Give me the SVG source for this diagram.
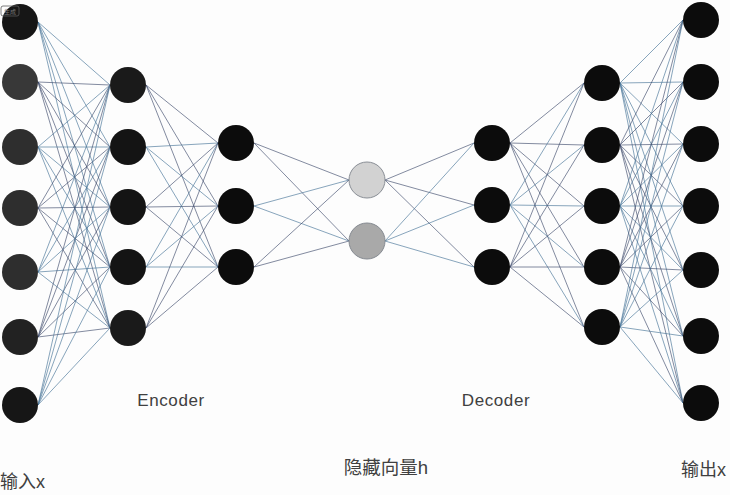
<svg xmlns="http://www.w3.org/2000/svg" width="730" height="495" viewBox="0 0 730 495">
<style>
.a{fill:none;stroke:#4f7a9c;stroke-width:0.85;stroke-opacity:0.8}
.b{fill:none;stroke:#3a4868;stroke-width:0.85;stroke-opacity:0.75}
.n{fill:#0c0c0c}
.g{fill:#2e2e2e}
.h1{fill:#d2d2d2;stroke:#8a8f96;stroke-width:1}
.h2{fill:#a9a9a9;stroke:#868b92;stroke-width:1}
.t{font-family:"Liberation Sans","Noto Sans CJK SC",sans-serif;fill:#404040}
</style>
<rect width="730" height="495" fill="#fdfdfd"/>
<g id="connectors">
<path class="a" d="M38 22L110 85M38 22L110 147M38 22L110 207M38 22L110 267M38 22L110 328"/>
<path class="b" d="M38 82L110 85M38 82L110 147M38 82L110 207M38 82L110 267M38 82L110 328"/>
<path class="a" d="M38 147L110 85M38 147L110 147M38 147L110 207M38 147L110 267M38 147L110 328"/>
<path class="b" d="M38 208L110 85M38 208L110 147M38 208L110 207M38 208L110 267M38 208L110 328"/>
<path class="a" d="M38 272L110 85M38 272L110 147M38 272L110 207M38 272L110 267M38 272L110 328"/>
<path class="b" d="M38 337L110 85M38 337L110 147M38 337L110 207M38 337L110 267M38 337L110 328"/>
<path class="a" d="M38 405L110 85M38 405L110 147M38 405L110 207M38 405L110 267M38 405L110 328"/>
<path class="b" d="M146 85L218 143M146 85L218 206M146 85L218 267"/>
<path class="a" d="M146 147L218 143M146 147L218 206M146 147L218 267"/>
<path class="b" d="M146 207L218 143M146 207L218 206M146 207L218 267"/>
<path class="a" d="M146 267L218 143M146 267L218 206M146 267L218 267"/>
<path class="b" d="M146 328L218 143M146 328L218 206M146 328L218 267"/>
<path class="b" d="M254 143L349 180M254 143L349 241"/>
<path class="a" d="M254 206L349 180M254 206L349 241"/>
<path class="b" d="M254 267L349 180M254 267L349 241"/>
<path class="b" d="M385 180L474 143M385 180L474 205M385 180L474 267"/>
<path class="a" d="M385 241L474 143M385 241L474 205M385 241L474 267"/>
<path class="b" d="M510 143L584 83M510 143L584 145M510 143L584 206M510 143L584 267M510 143L584 327"/>
<path class="a" d="M510 205L584 83M510 205L584 145M510 205L584 206M510 205L584 267M510 205L584 327"/>
<path class="b" d="M510 267L584 83M510 267L584 145M510 267L584 206M510 267L584 267M510 267L584 327"/>
<path class="a" d="M620 83L683 20M620 83L683 82M620 83L683 144M620 83L683 206M620 83L683 270M620 83L683 336M620 83L683 403"/>
<path class="b" d="M620 145L683 20M620 145L683 82M620 145L683 144M620 145L683 206M620 145L683 270M620 145L683 336M620 145L683 403"/>
<path class="a" d="M620 206L683 20M620 206L683 82M620 206L683 144M620 206L683 206M620 206L683 270M620 206L683 336M620 206L683 403"/>
<path class="b" d="M620 267L683 20M620 267L683 82M620 267L683 144M620 267L683 206M620 267L683 270M620 267L683 336M620 267L683 403"/>
<path class="a" d="M620 327L683 20M620 327L683 82M620 327L683 144M620 327L683 206M620 327L683 270M620 327L683 336M620 327L683 403"/>
</g>
<g id="input-layer">
<circle id="x1" class="n" cx="20" cy="22" r="18" style="fill:#161616"/>
<circle id="x2" class="g" cx="20" cy="82" r="18" style="fill:#383838"/>
<circle id="x3" class="g" cx="20" cy="147" r="18"/>
<circle id="x4" class="g" cx="20" cy="208" r="18"/>
<circle id="x5" class="g" cx="20" cy="272" r="18"/>
<circle id="x6" class="g" cx="20" cy="337" r="18" style="fill:#222"/>
<circle id="x7" class="n" cx="20" cy="405" r="18" style="fill:#161616"/>
</g>
<g id="badge">
<rect x="1" y="6" width="18" height="10" rx="2" fill="none" stroke="#5a5a5a" stroke-width="0.8"/>
<text x="10" y="13.5" font-size="6" text-anchor="middle" class="t" style="fill:#777">生成</text>
</g>
<g id="encoder-layer1">
<circle id="e1" class="n" cx="128" cy="85" r="18" style="fill:#1a1a1a"/>
<circle id="e2" class="n" cx="128" cy="147" r="18" style="fill:#141414"/>
<circle id="e3" class="n" cx="128" cy="207" r="18" style="fill:#141414"/>
<circle id="e4" class="n" cx="128" cy="267" r="18" style="fill:#141414"/>
<circle id="e5" class="n" cx="128" cy="328" r="18" style="fill:#1a1a1a"/>
</g>
<g id="encoder-layer2">
<circle id="e6" class="n" cx="236" cy="143" r="18"/>
<circle id="e7" class="n" cx="236" cy="206" r="18"/>
<circle id="e8" class="n" cx="236" cy="267" r="18"/>
</g>
<g id="latent">
<circle id="h1" class="h1" cx="367" cy="180" r="18"/>
<circle id="h2" class="h2" cx="367" cy="241" r="18"/>
</g>
<g id="decoder-layer1">
<circle id="d1" class="n" cx="492" cy="143" r="18"/>
<circle id="d2" class="n" cx="492" cy="205" r="18"/>
<circle id="d3" class="n" cx="492" cy="267" r="18"/>
</g>
<g id="decoder-layer2">
<circle id="d4" class="n" cx="602" cy="83" r="18"/>
<circle id="d5" class="n" cx="602" cy="145" r="18"/>
<circle id="d6" class="n" cx="602" cy="206" r="18"/>
<circle id="d7" class="n" cx="602" cy="267" r="18"/>
<circle id="d8" class="n" cx="602" cy="327" r="18"/>
</g>
<g id="output-layer">
<circle id="y1" class="n" cx="701" cy="20" r="18"/>
<circle id="y2" class="n" cx="701" cy="82" r="18"/>
<circle id="y3" class="n" cx="701" cy="144" r="18"/>
<circle id="y4" class="n" cx="701" cy="206" r="18"/>
<circle id="y5" class="n" cx="701" cy="270" r="18"/>
<circle id="y6" class="n" cx="701" cy="336" r="18"/>
<circle id="y7" class="n" cx="701" cy="403" r="18"/>
</g>
<g id="labels">
<text class="t" x="171" y="406" font-size="17" letter-spacing="0.6" text-anchor="middle">Encoder</text>
<text class="t" x="496" y="406" font-size="17" letter-spacing="0.6" text-anchor="middle">Decoder</text>
<text class="t" x="386" y="474" font-size="18.5" text-anchor="middle">隐藏向量h</text>
<text class="t" x="0" y="488" font-size="18">输入x</text>
<text class="t" x="681" y="476" font-size="18">输出x</text>
</g>
</svg>
